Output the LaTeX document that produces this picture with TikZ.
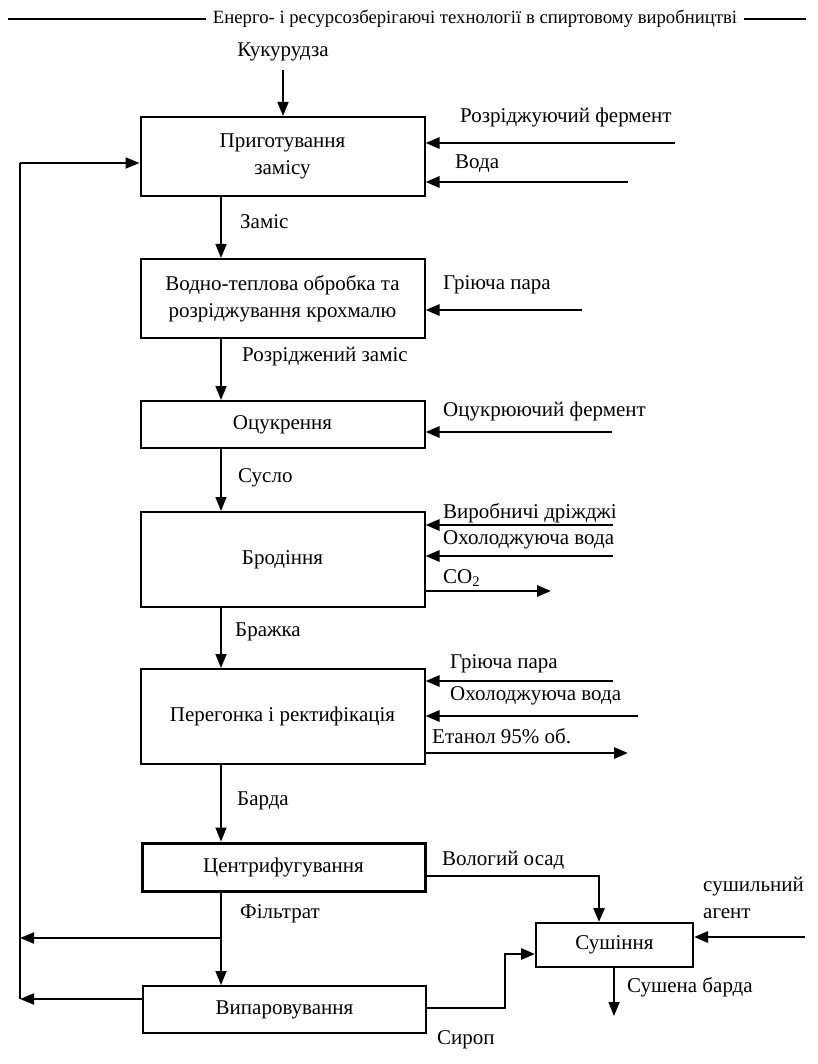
\documentclass[tikz,border=0pt]{standalone}
\usepackage{fontspec}
\setmainfont{Liberation Serif}
\usetikzlibrary{arrows.meta}
\newcommand{\fsz}{\fontsize{21pt}{27pt}\selectfont}
\newcommand{\hsz}{\fontsize{18.7pt}{20pt}\selectfont}
\begin{document}
\begin{tikzpicture}[x=1pt,y=-1pt,
  box/.style={draw,line width=2pt,inner sep=0pt,minimum width=284pt,align=center,font=\fsz},
  lbl/.style={anchor=west,inner sep=0pt,font=\fsz},
  arr/.style={-{Triangle[length=14pt,width=11pt]}},
  mainline/.style={line width=1.5pt},
  inline/.style={line width=2.8pt},
  loopline/.style={line width=2pt},
]
\useasboundingbox (0,0) rectangle (818,1064);
% header
\node[inner sep=0pt,font=\hsz] (hdr) at (475,19) {Енерго- і ресурсозберігаючі технології в спиртовому виробництві};
\coordinate (hl) at (8,19);
\coordinate (hr) at (806,19);
\draw[line width=1.2pt] (hl) -- ([xshift=-7pt]hdr.west |- hl);
\draw[line width=1.2pt] ([xshift=7pt]hdr.east |- hr) -- (hr);

% boxes
\node[box,minimum height=79pt] (b1) at (282.5,156.5) {Приготування\\замісу};
\node[box,minimum height=79pt] (b2) at (282.5,298.5) {Водно-теплова обробка та\\розріджування крохмалю};
\node[box,minimum height=47pt] (b3) at (282.5,424.5) {Оцукрення};
\node[box,minimum height=95pt] (b4) at (282.5,559.5) {Бродіння};
\node[box,minimum height=95pt] (b5) at (282.5,716.5) {Перегонка і ректифікація};
\node[box,minimum height=48pt,line width=3pt,minimum width=283pt] (b6) at (283.5,867) {Центрифугування};
\node[box,minimum height=44pt,minimum width=157pt] (b7) at (614.5,945) {Сушіння};
\node[box,minimum height=47pt,minimum width=283pt] (b8) at (284.5,1009.5) {Випаровування};

% Kukurudza
\node[inner sep=0pt,font=\fsz] (kuk) at (283,52) {Кукурудза};
\coordinate (kt) at (283,70);
\draw[mainline,arr] (kt) -- (kt |- b1.north);

% main vertical flow
\coordinate (mx) at (221,0);
\draw[mainline,arr] (b1.south -| mx) -- (b2.north -| mx);
\draw[mainline,arr] (b2.south -| mx) -- (b3.north -| mx);
\draw[mainline,arr] (b3.south -| mx) -- (b4.north -| mx);
\draw[mainline,arr] (b4.south -| mx) -- (b5.north -| mx);
\draw[mainline,arr] (b5.south -| mx) -- (b6.north -| mx);
\draw[mainline,arr] (b6.south -| mx) -- (b8.north -| mx);

\node[lbl] (lzam) at (240,222) {Заміс};
\node[lbl] (lrz) at (242,357) {Розріджений заміс};
\node[lbl] (lsus) at (238,478) {Сусло};
\node[lbl] (lbr) at (235,632) {Бражка};
\node[lbl] (lbar) at (237,801) {Барда};
\node[lbl] (lfil) at (240,914) {Фільтрат};

% inputs to box1
\coordinate (i1) at (675,143);
\coordinate (i2) at (628,182);
\draw[inline,arr] (i1) -- (i1 -| b1.east);
\draw[inline,arr] (i2) -- (i2 -| b1.east);
\node[lbl] (lrf) at (460,117) {Розріджуючий фермент};
\node[lbl] (lvod) at (455,164) {Вода};

% box2
\coordinate (i3) at (582,310);
\draw[inline,arr] (i3) -- (i3 -| b2.east);
\node[lbl] (lgp1) at (443,285) {Гріюча пара};

% box3
\coordinate (i4) at (612,432);
\draw[inline,arr] (i4) -- (i4 -| b3.east);
\node[lbl] (lof) at (443,411) {Оцукрюючий фермент};

% box4
\coordinate (i5) at (613,525);
\coordinate (i6) at (613,556);
\coordinate (o1) at (551,591);
\draw[inline,arr] (i5) -- (i5 -| b4.east);
\draw[inline,arr] (i6) -- (i6 -| b4.east);
\draw[inline,arr] (o1 -| b4.east) -- (o1);
\node[lbl] (lvd) at (443,513) {Виробничі дріжджі};
\node[lbl] (lov1) at (443,540) {Охолоджуюча вода};
\node[lbl] (lco) at (443,578) {CO\textsubscript{2}};

% box5
\coordinate (i7) at (613,681);
\coordinate (i8) at (638,716);
\coordinate (o2) at (628,753);
\draw[inline,arr] (i7) -- (i7 -| b5.east);
\draw[inline,arr] (i8) -- (i8 -| b5.east);
\draw[inline,arr] (o2 -| b5.east) -- (o2);
\node[lbl] (lgp2) at (450,664) {Гріюча пара};
\node[lbl] (lov2) at (450,696) {Охолоджуюча вода};
\node[lbl] (let) at (432,736) {Етанол 95\% об.};

% centrifuge -> drying
\coordinate (vo) at (599,876);
\draw[inline,arr] (b6.east |- vo) -- (vo) -- (vo |- b7.north);
\node[lbl] (lvo) at (442,860) {Вологий осад};

% evaporation -> drying
\coordinate (s1) at (505,1008);
\coordinate (s2) at (505,954);
\draw[inline,arr] (b8.east |- s1) -- (s1) -- (s2) -- (s2 -| b7.west);
\node[lbl] (lsir) at (437,1040) {Сироп};

% drying agent
\coordinate (sa) at (805,937);
\draw[inline,arr] (sa) -- (sa -| b7.east);
\node[lbl,align=left,anchor=north west] (lsa) at (703,877) {сушильний\\агент};

% dried barda
\coordinate (sb) at (614,1016);
\draw[mainline,arr] (b7.south -| sb) -- (sb);
\node[lbl] (lsb) at (627,987) {Сушена барда};

% recycle loop
\coordinate (lt) at (20,163);
\coordinate (lb) at (20,999);
\coordinate (fj) at (221,938);
\draw[loopline] (lb) -- (lt);
\draw[loopline,arr] (lt) -- (lt -| b1.west);
\draw[loopline,arr] (fj) -- (fj -| lt);
\draw[loopline,arr] (b8.west |- lb) -- (lb);
\end{tikzpicture}
\end{document}
